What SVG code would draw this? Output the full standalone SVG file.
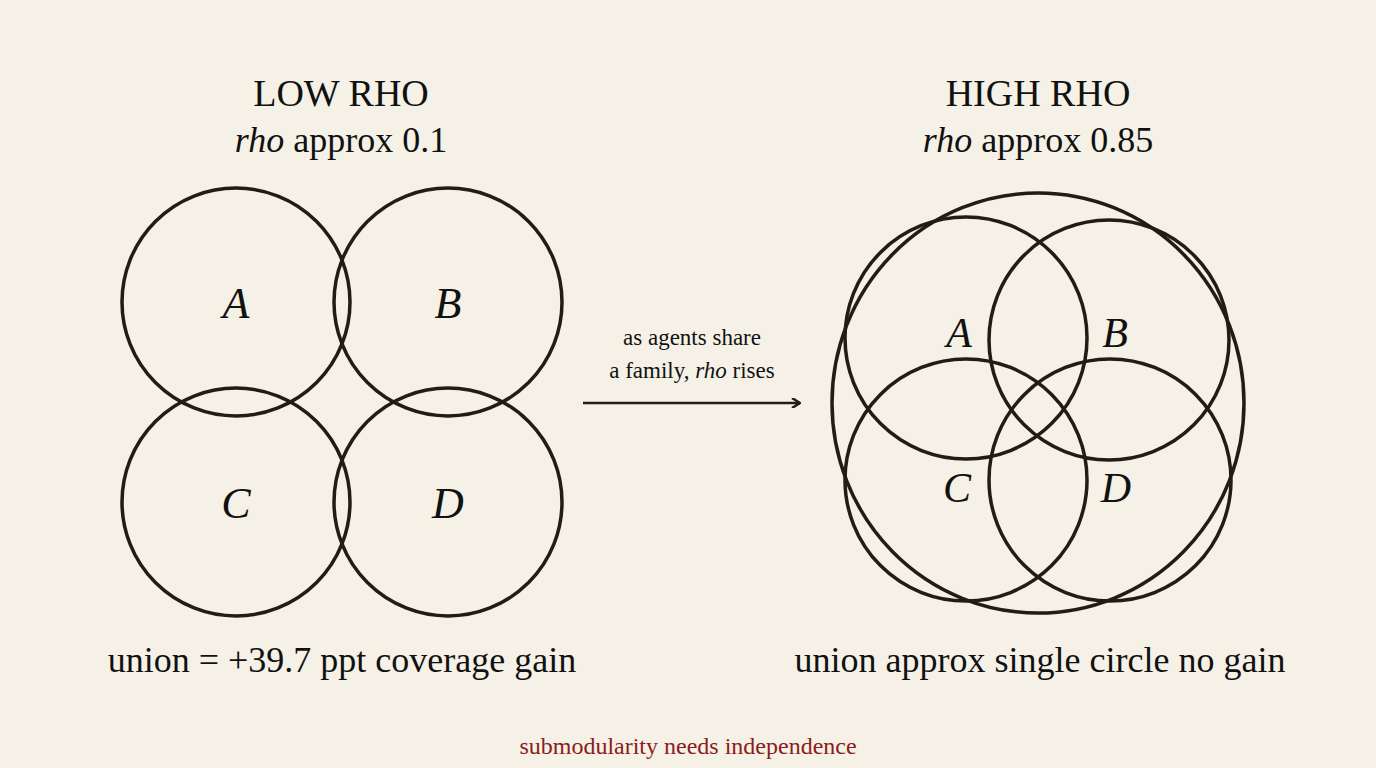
<svg xmlns="http://www.w3.org/2000/svg" width="1376" height="768" viewBox="0 0 1376 768">
<style>
.c{fill:none;stroke:#231c15;stroke-width:3.5}
.t{font-family:"Liberation Serif","DejaVu Serif",serif;fill:#111;text-anchor:middle}
.l{font-style:italic;font-size:44px}
</style>
<defs><marker id="ah" markerWidth="10" markerHeight="10" refX="9" refY="5" orient="auto" markerUnits="userSpaceOnUse"><path d="M1,0 L9,5 L1,10" fill="none" stroke="#231c15" stroke-width="2.5"/></marker></defs>
<rect width="1376" height="768" fill="#f5f1e7"/>
<g id="titles" class="t">
<text x="341" y="106" font-size="38">LOW RHO</text>
<text x="341" y="152" font-size="36"><tspan font-style="italic">rho</tspan> approx 0.1</text>
<text x="1038" y="106" font-size="38">HIGH RHO</text>
<text x="1038" y="152" font-size="36"><tspan font-style="italic">rho</tspan> approx 0.85</text>
</g>
<g id="left">
<g id="lA"><circle class="c" cx="236" cy="302" r="114"/><text class="t l" x="236" y="318">A</text></g>
<g id="lB"><circle class="c" cx="448" cy="302" r="114"/><text class="t l" x="448" y="318">B</text></g>
<g id="lC"><circle class="c" cx="236" cy="502" r="114"/><text class="t l" x="236" y="518">C</text></g>
<g id="lD"><circle class="c" cx="448" cy="502" r="114"/><text class="t l" x="448" y="518">D</text></g>
</g>
<g id="right">
<g id="outer"><ellipse class="c" cx="1038" cy="403" rx="206" ry="210"/></g>
<g id="rA"><circle class="c" cx="966" cy="338" r="121"/><text class="t" style="font-style:italic" font-size="42" x="959" y="347">A</text></g>
<g id="rB"><circle class="c" cx="1109" cy="340" r="120"/><text class="t" style="font-style:italic" font-size="42" x="1115" y="347">B</text></g>
<g id="rC"><circle class="c" cx="966" cy="480" r="121"/><text class="t" style="font-style:italic" font-size="42" x="957" y="502">C</text></g>
<g id="rD"><circle class="c" cx="1110" cy="480" r="121"/><text class="t" style="font-style:italic" font-size="42" x="1116" y="502">D</text></g>
</g>
<g id="connectors"><line x1="583" y1="403" x2="800" y2="403" stroke="#231c15" stroke-width="2.5" marker-end="url(#ah)"/></g>
<g id="arrowlabel" class="t" font-size="23">
<text x="692" y="345">as agents share</text>
<text x="692" y="378">a family, <tspan font-style="italic">rho</tspan> rises</text>
</g>
<g id="captions" class="t" font-size="36">
<text x="342" y="672">union = +39.7 ppt coverage gain</text>
<text x="1040" y="672">union approx single circle no gain</text>
<text x="688" y="754" font-size="24" fill="#8b1c1c" style="fill:#8b1c1c">submodularity needs independence</text>
</g>
</svg>
